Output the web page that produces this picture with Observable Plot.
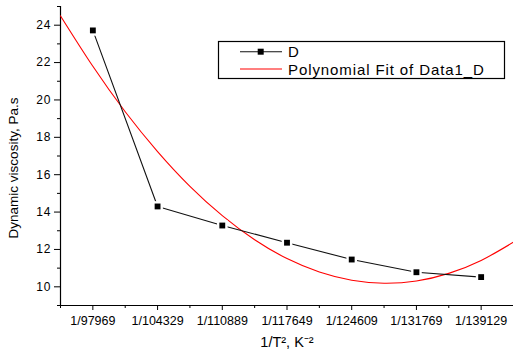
<!DOCTYPE html>
<html>
<head>
<meta charset="utf-8">
<script src="https://cdn.jsdelivr.net/npm/d3@7"></script>
<script src="https://cdn.jsdelivr.net/npm/@observablehq/plot@0.6"></script>
<style>
  html, body { margin: 0; padding: 0; background: #fff; }
  #chart svg { display: block; font-family: "Liberation Sans", Arial, sans-serif; }
</style>
</head>
<body>
<div id="chart"></div>
<script>
// Categories (x tick labels) and measured series
const categories = ["1/97969", "1/104329", "1/110889", "1/117649", "1/124609", "1/131769", "1/139129"];
const dValues = [23.72, 14.30, 13.28, 12.36, 11.46, 10.78, 10.52];

// Polynomial fit curve at half-category steps
const fitPositions = [-0.5, 0, 0.5, 1, 1.5, 2, 2.5, 3, 3.5, 4, 4.5, 5, 5.5, 6, 6.5];
const fitValues = [24.50, 21.80, 19.37, 17.24, 15.38, 13.81, 12.52, 11.51, 10.79, 10.35, 10.19, 10.31, 10.72, 11.41, 12.39];

const yMajorTicks = [10, 12, 14, 16, 18, 20, 22, 24];
const yMinorTicks = [9, 11, 13, 15, 17, 19, 21, 23, 25];
const xMinorTicks = [-0.5, 0.5, 1.5, 2.5, 3.5, 4.5, 5.5, 6.5];

const seriesName = "D";
const fitName = "Polynomial Fit of Data1_D";
const yLabel = "Dynamic viscosity, Pa.s";
const xLabel = "1/T², K⁻²";

const points = dValues.map((v, i) => ({i, v}));
const fit = fitValues.map((v, k) => ({x: fitPositions[k], v}));

const plot = Plot.plot({
  width: 513,
  height: 355,
  marginLeft: 60,
  marginRight: 0,
  marginTop: 6,
  marginBottom: 50,
  style: {fontFamily: "Liberation Sans, Arial, sans-serif", background: "#fff", overflow: "visible"},
  x: {type: "linear", domain: [-0.5, 6.5]},
  y: {domain: [9, 25]},
  marks: [
    // axes lines
    Plot.ruleX([-0.5], {stroke: "#000", strokeWidth: 1.2}),
    Plot.ruleY([9], {stroke: "#000", strokeWidth: 1.2}),
    // y axis
    Plot.axisY({ticks: yMajorTicks, tickSize: 6, tickPadding: 3, label: null, stroke: "#000", color: "#000", tickFormat: d => String(d)}),
    Plot.axisY({ticks: yMinorTicks, tickSize: 3, label: null, tickFormat: () => "", stroke: "#000"}),
    // x axis
    Plot.axisX({ticks: d3.range(categories.length), tickSize: 5, tickPadding: 6, label: null, color: "#000", stroke: "#000", tickFormat: d => categories[d]}),
    Plot.axisX({ticks: xMinorTicks, tickSize: 3, label: null, tickFormat: () => "", stroke: "#000"}),
    // fit curve
    Plot.line(fit, {x: "x", y: "v", stroke: "#ff0000", strokeWidth: 1.1, curve: "natural"}),
    // data line
    Plot.line(points, {x: "i", y: "v", stroke: "#111", strokeWidth: 1.1}),
    Plot.dot(points, {x: "i", y: "v", symbol: "square", r: 6, fill: "#fff", stroke: "none"}),
    Plot.dot(points, {x: "i", y: "v", symbol: "square", r: 3.3, fill: "#000", stroke: "none"}),
    // axis titles
    Plot.text([yLabel], {frameAnchor: "left", rotate: -90, dx: -47, dy: 12, fontSize: 13.5, fill: "#000", textAnchor: "middle"}),
    Plot.text([xLabel], {frameAnchor: "bottom", dx: 0, dy: 37, fontSize: 14.5, fill: "#000", lineAnchor: "middle"})
  ]
});

const svg = d3.select(plot);
// tick label sizes (set directly on the text elements)
const yTickStrings = new Set(yMajorTicks.map(String));
const xTickStrings = new Set(categories);
svg.selectAll("text").each(function() {
  const t = this.textContent;
  if (yTickStrings.has(t)) {
    this.setAttribute("font-size", "12");
    this.style.fontSize = "12px";
    this.style.letterSpacing = "1px";
  } else if (xTickStrings.has(t)) {
    this.setAttribute("font-size", "12.5");
    this.style.fontSize = "12.5px";
  }
});

// legend inside the plot area
const lg = svg.append("g").attr("aria-label", "legend").attr("text-anchor", "start");
lg.append("rect").attr("x", 218.5).attr("y", 41.5).attr("width", 286).attr("height", 37)
  .attr("fill", "#fff").attr("stroke", "#000").attr("stroke-width", 1.2);
lg.append("line").attr("x1", 240).attr("x2", 282).attr("y1", 51.7).attr("y2", 51.7).attr("stroke", "#111").attr("stroke-width", 1.1);
lg.append("rect").attr("x", 257.7).attr("y", 48.7).attr("width", 6).attr("height", 6).attr("fill", "#000");
lg.append("line").attr("x1", 240).attr("x2", 282).attr("y1", 69).attr("y2", 69).attr("stroke", "#ff0000").attr("stroke-width", 1.1);
lg.append("text").attr("x", 288).attr("y", 56.8).attr("font-size", 15).attr("fill", "#000").text(seriesName);
lg.append("text").attr("x", 288).attr("y", 74.5).attr("font-size", 15).attr("letter-spacing", "0.9px").attr("fill", "#000").text(fitName);

document.getElementById("chart").appendChild(plot);
</script>
</body>
</html>
